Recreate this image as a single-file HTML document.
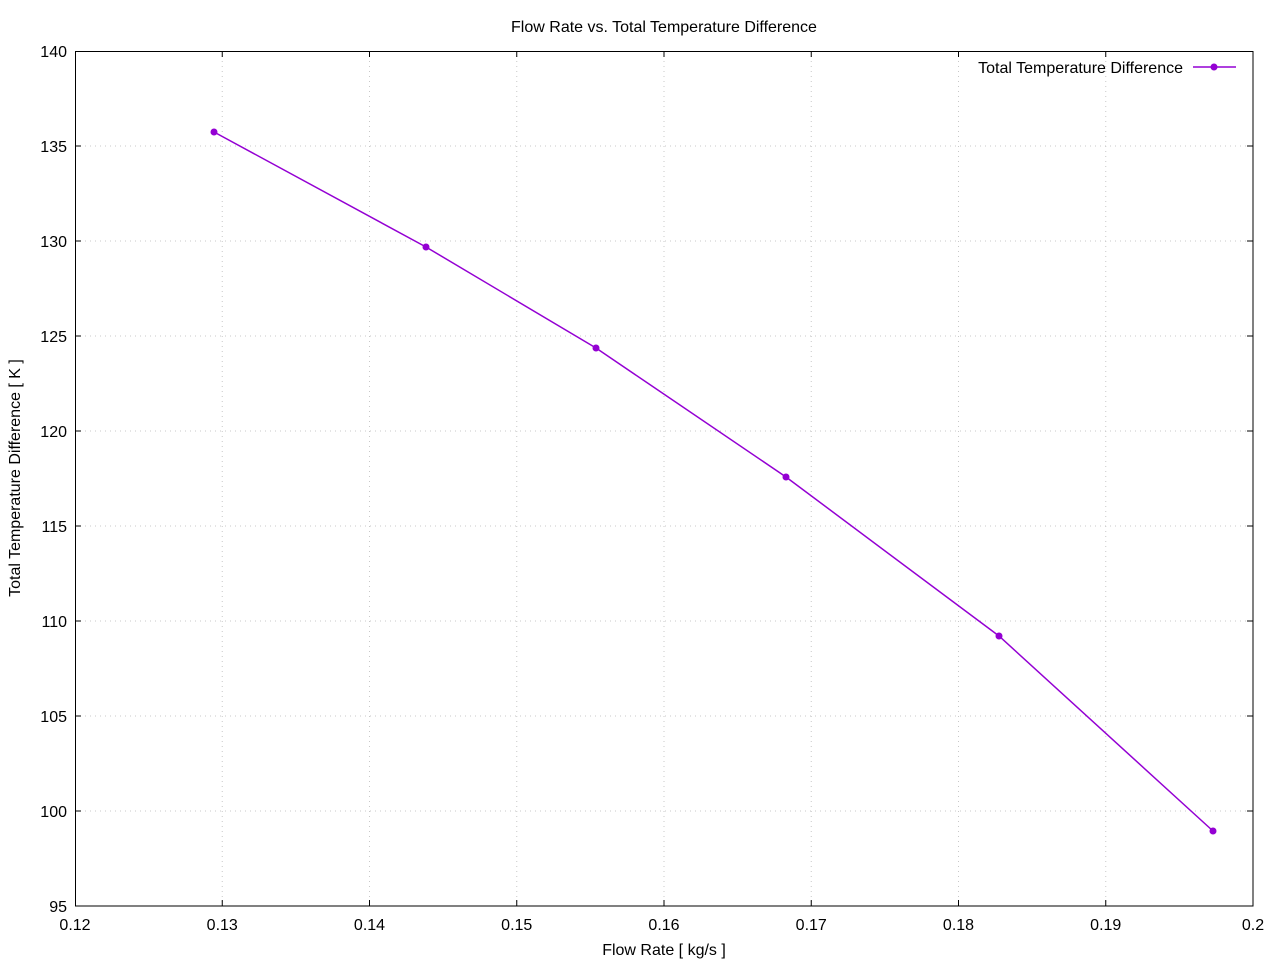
<!DOCTYPE html>
<html><head><meta charset="utf-8"><style>
html,body{margin:0;padding:0;background:#fff;}
svg{display:block;font-family:"Liberation Sans",sans-serif;}
</style></head><body>
<svg width="1280" height="960" viewBox="0 0 1280 960" xmlns="http://www.w3.org/2000/svg">
<rect width="1280" height="960" fill="#fff"/>
<g stroke="#c8c8c8" stroke-width="1" stroke-dasharray="1,4">
<line x1="222.25" y1="51" x2="222.25" y2="906"/>
<line x1="369.5" y1="51" x2="369.5" y2="906"/>
<line x1="516.75" y1="51" x2="516.75" y2="906"/>
<line x1="664" y1="51" x2="664" y2="906"/>
<line x1="811.25" y1="51" x2="811.25" y2="906"/>
<line x1="958.5" y1="51" x2="958.5" y2="906"/>
<line x1="1105.75" y1="51" x2="1105.75" y2="906"/>
<line x1="75" y1="146" x2="1253" y2="146"/>
<line x1="75" y1="241" x2="1253" y2="241"/>
<line x1="75" y1="336" x2="1253" y2="336"/>
<line x1="75" y1="431" x2="1253" y2="431"/>
<line x1="75" y1="526" x2="1253" y2="526"/>
<line x1="75" y1="621" x2="1253" y2="621"/>
<line x1="75" y1="716" x2="1253" y2="716"/>
<line x1="75" y1="811" x2="1253" y2="811"/>
</g>
<g stroke="#000" stroke-width="1">
<rect x="75.5" y="51.5" width="1177.5" height="854.5" fill="none"/>
<path d="M222.25 906v-6M369.5 906v-6M516.75 906v-6M664 906v-6M811.25 906v-6M958.5 906v-6M1105.75 906v-6
M222.25 51v6M369.5 51v6M516.75 51v6M664 51v6M811.25 51v6M958.5 51v6M1105.75 51v6
M75 146h6M75 241h6M75 336h6M75 431h6M75 526h6M75 621h6M75 716h6M75 811h6
M1253 146h-6M1253 241h-6M1253 336h-6M1253 431h-6M1253 526h-6M1253 621h-6M1253 716h-6M1253 811h-6"/>
</g>
<g font-size="16" fill="#000" text-anchor="end">
<text x="67" y="57">140</text><text x="67" y="152">135</text><text x="67" y="247">130</text>
<text x="67" y="342">125</text><text x="67" y="437">120</text><text x="67" y="532">115</text>
<text x="67" y="627">110</text><text x="67" y="722">105</text><text x="67" y="817">100</text>
<text x="67" y="912">95</text>
</g>
<g font-size="16" fill="#000" text-anchor="middle">
<text x="75" y="930">0.12</text><text x="222.25" y="930">0.13</text><text x="369.5" y="930">0.14</text>
<text x="516.75" y="930">0.15</text><text x="664" y="930">0.16</text><text x="811.25" y="930">0.17</text>
<text x="958.5" y="930">0.18</text><text x="1105.75" y="930">0.19</text><text x="1253" y="930">0.2</text>
<text x="664" y="32">Flow Rate vs. Total Temperature Difference</text>
<text x="664" y="955">Flow Rate [ kg/s ]</text>
<text transform="translate(20,478) rotate(-90)">Total Temperature Difference [ K ]</text>
</g>
<text x="1183" y="73" font-size="16" text-anchor="end">Total Temperature Difference</text>
<line x1="1193" y1="67" x2="1236" y2="67" stroke="#9400d3" stroke-width="1.5"/>
<circle cx="1214" cy="67" r="3.5" fill="#9400d3"/>
<polyline points="214,132 426,247 596,348 786,477 999,636 1213,831" fill="none" stroke="#9400d3" stroke-width="1.5"/>
<g fill="#9400d3">
<circle cx="214" cy="132" r="3.5"/><circle cx="426" cy="247" r="3.5"/><circle cx="596" cy="348" r="3.5"/>
<circle cx="786" cy="477" r="3.5"/><circle cx="999" cy="636" r="3.5"/><circle cx="1213" cy="831" r="3.5"/>
</g>
</svg>
</body></html>
